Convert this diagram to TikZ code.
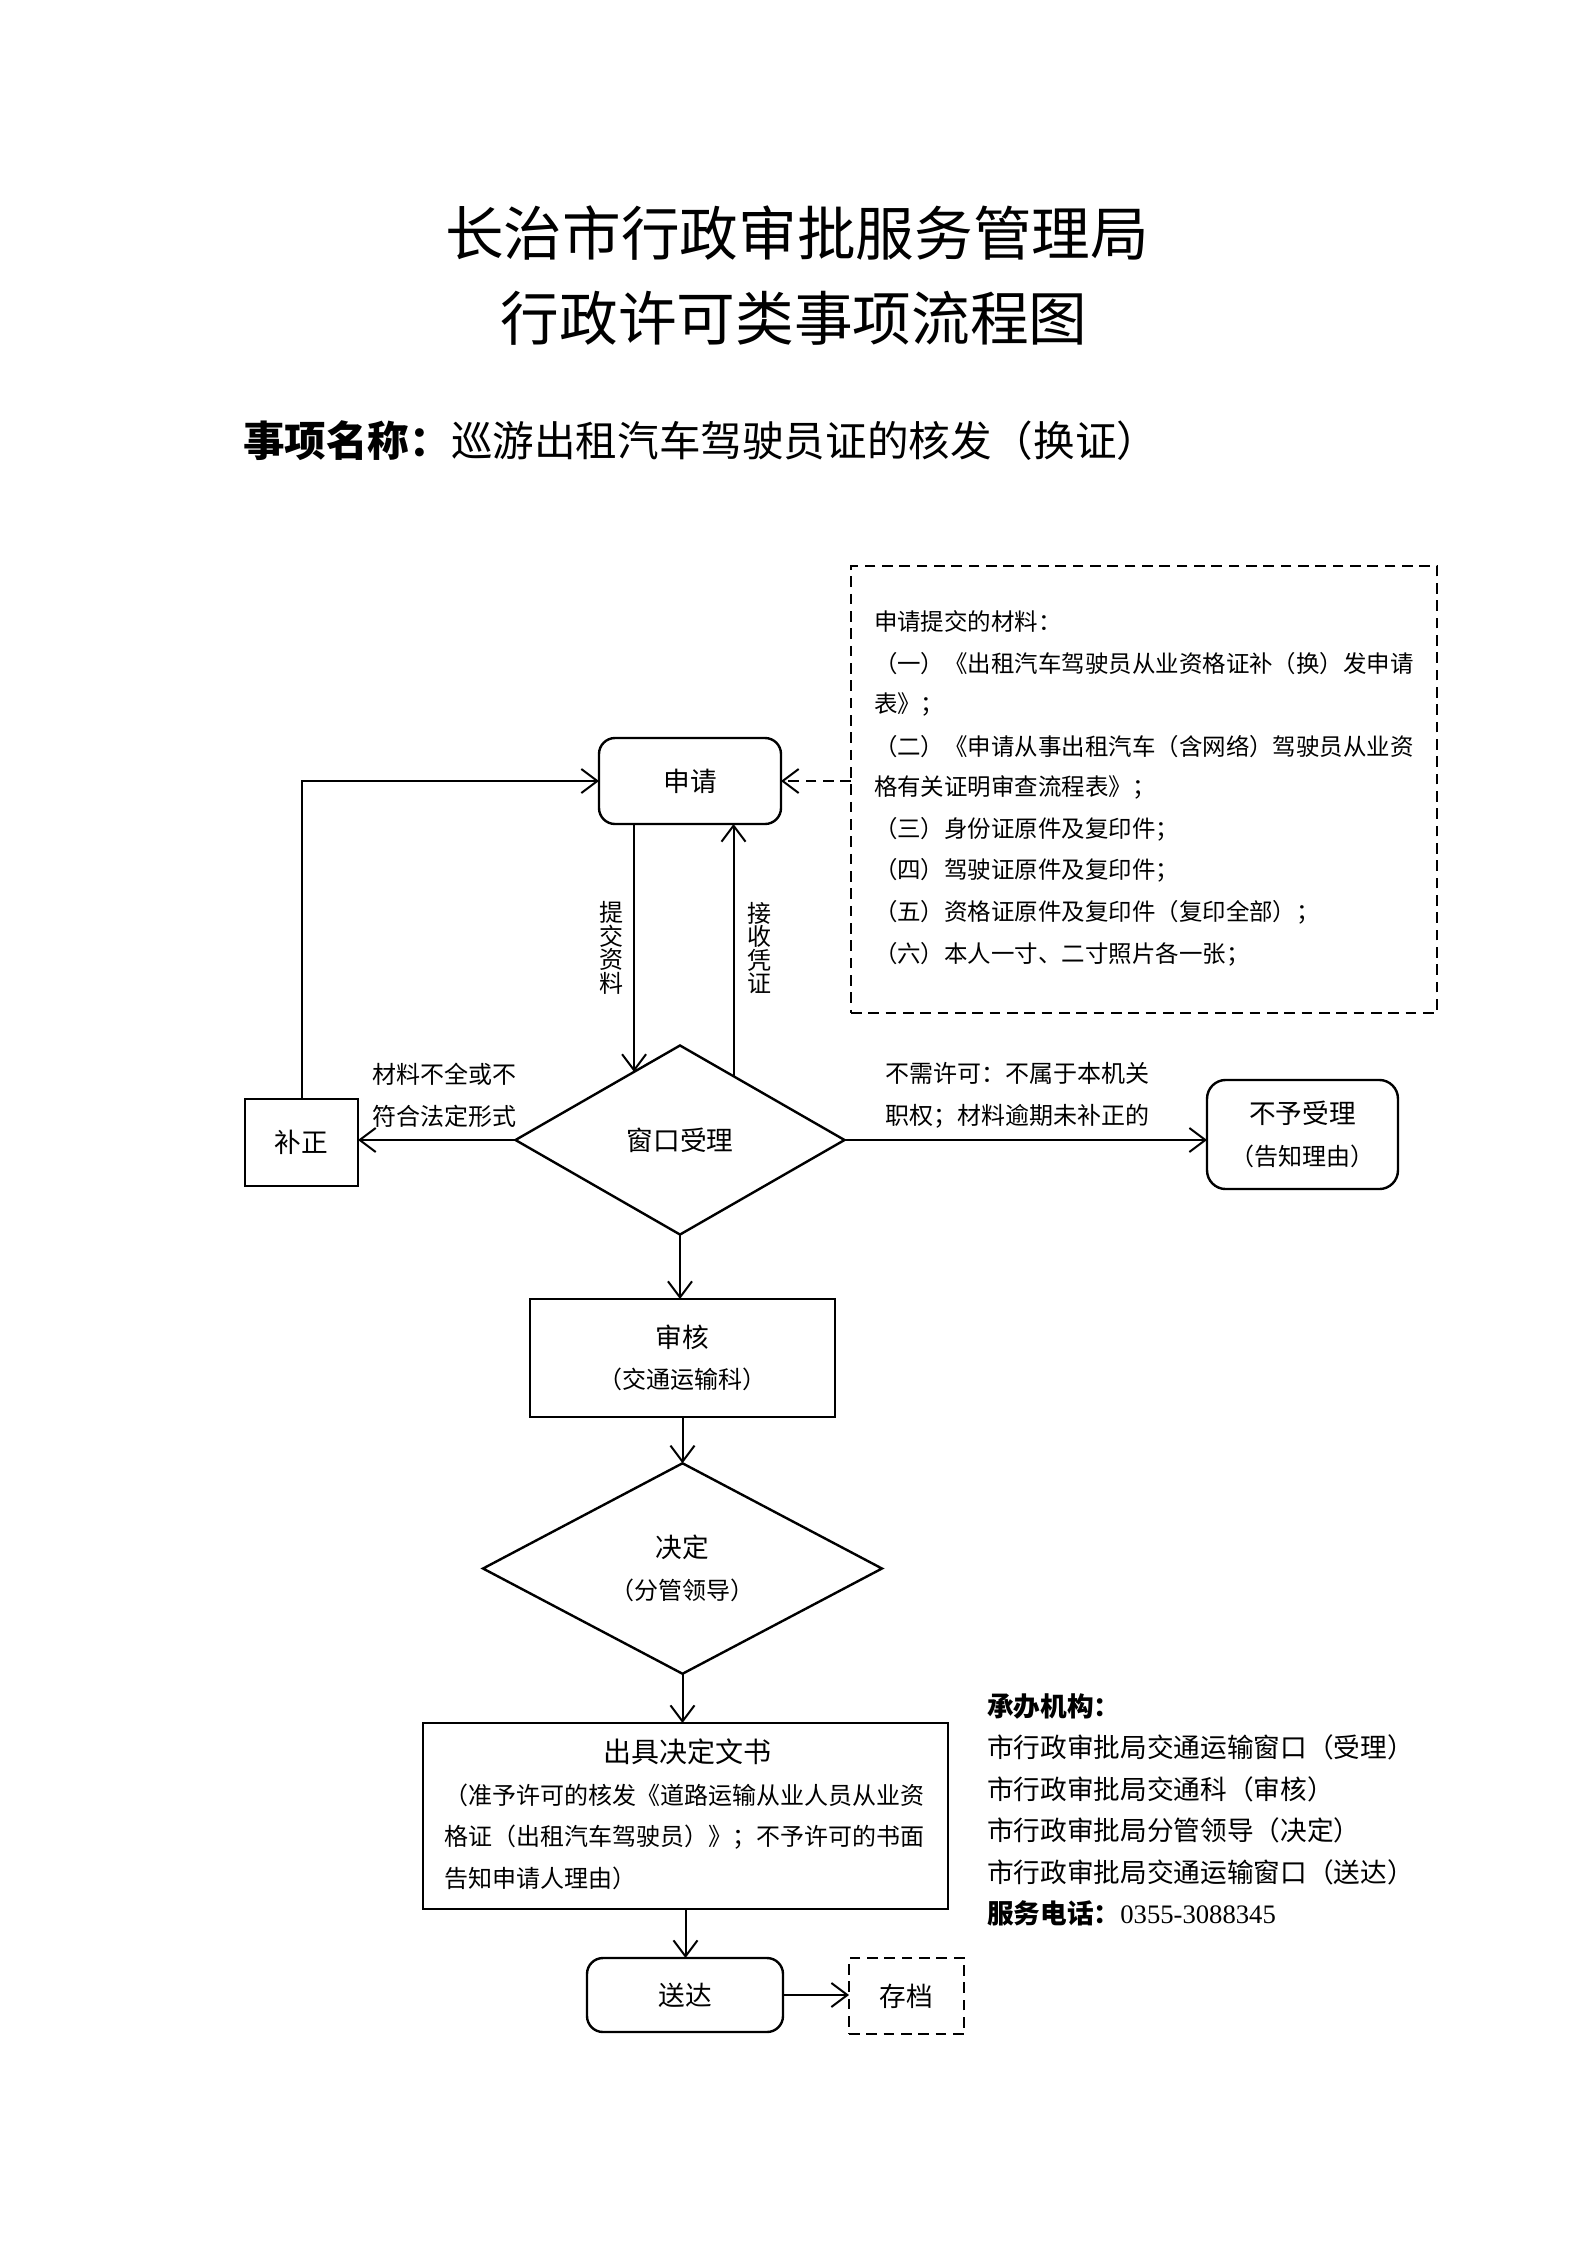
\documentclass[tikz,border=0pt]{standalone}
\usepackage{fontspec}
\setmainfont{Noto Sans CJK SC}
\newfontfamily\numfont{Liberation Serif}
\usetikzlibrary{shapes.geometric,arrows.meta,calc}
\begin{document}
\begin{tikzpicture}[x=0.375pt,y=-0.375pt,
  every node/.style={inner sep=0pt, outer sep=0pt},
  shapebox/.style={draw, line width=0.9pt, align=center, font=\fontsize{10pt}{15.6pt}\selectfont},
  roundbox/.style={shapebox, rounded corners=6pt},
  decision/.style={shapebox, diamond},
  dashbox/.style={draw, line width=0.9pt, dash pattern=on 4pt off 2.5pt},
  conn/.style={line width=0.75pt, -{Straight Barb[length=6pt,width=9pt,line width=0.75pt]}},
  dconn/.style={conn, dash pattern=on 4pt off 2.5pt},
  small/.style={font=\fontsize{9pt}{15.6pt}\selectfont},
  matfont/.style={font=\fontsize{8.8pt}{15.6pt}\selectfont},
  vlabel/.style={align=center, font=\fontsize{9pt}{8.8pt}\selectfont},
  titlefont/.style={font=\fontsize{22pt}{26pt}\selectfont},
  infofont/.style={font=\fontsize{10pt}{15.6pt}\selectfont},
]
\useasboundingbox (0,0) rectangle (1587,2245);

% titles
\node[titlefont] (t1) at (797,233) {长治市行政审批服务管理局};
\node[titlefont] (t2) at (794,318) {行政许可类事项流程图};
\node[anchor=west, font=\fontsize{15.6pt}{18pt}\selectfont] (sub) at (243,441) {\textbf{事项名称：}巡游出租汽车驾驶员证的核发（换证）};

% materials box
\node[dashbox, minimum width=219.75pt, minimum height=167.6pt] (mat) at (1144,789.5) {};
\node[matfont, anchor=west] (m0) at (874,621.6) {申请提交的材料：};
\node[matfont, anchor=west] (m1) at (874,663.1) {（一）《出租汽车驾驶员从业资格证补（换）发申请};
\node[matfont, anchor=west] (m2) at (874,704.7) {表》；};
\node[matfont, anchor=west] (m3) at (874,746.2) {（二）《申请从事出租汽车（含网络）驾驶员从业资};
\node[matfont, anchor=west] (m4) at (874,787.8) {格有关证明审查流程表》；};
\node[matfont, anchor=west] (m5) at (874,829.3) {（三）身份证原件及复印件；};
\node[matfont, anchor=west] (m6) at (874,870.8) {（四）驾驶证原件及复印件；};
\node[matfont, anchor=west] (m7) at (874,912.4) {（五）资格证原件及复印件（复印全部）；};
\node[matfont, anchor=west] (m8) at (874,953.9) {（六）本人一寸、二寸照片各一张；};

% main nodes
\node[roundbox, minimum width=68.25pt, minimum height=32.25pt] (apply) at (690,781) {申请};
\node[shapebox, minimum width=42.4pt, minimum height=32.6pt] (fix) at (301.5,1142.5) {补正};
\node[decision, minimum width=123.4pt, minimum height=70.9pt] (window) at (680,1140) {窗口受理};
\node[roundbox, rounded corners=7pt, minimum width=71.6pt, minimum height=40.9pt] (reject) at (1302.5,1134.5) {不予受理\\{\fontsize{9pt}{10pt}\selectfont （告知理由）}};
\node[shapebox, minimum width=114.4pt, minimum height=44.25pt] (review) at (682.5,1358) {审核\\{\fontsize{9pt}{10pt}\selectfont （交通运输科）}};
\node[decision, minimum width=149.6pt, minimum height=73.1pt] (decide) at (682.5,1568.5) {决定\\{\fontsize{9pt}{10pt}\selectfont （分管领导）}};
\node[draw, line width=0.9pt, minimum width=196.9pt, minimum height=69.75pt] (issue) at (685.5,1816) {};
\node[font=\fontsize{10.5pt}{12pt}\selectfont] (issuet) at (687,1752) {出具决定文书};
\node[small, anchor=west, align=left] (issueb) at (444,1836.5) {（准予许可的核发《道路运输从业人员从业资\\格证（出租汽车驾驶员）》；不予许可的书面\\告知申请人理由）};
\node[roundbox, minimum width=73.5pt, minimum height=27.75pt] (deliver) at (685,1995) {送达};
\node[shapebox, dash pattern=on 4pt off 2.5pt, minimum width=43.1pt, minimum height=28.5pt] (archive) at (906.5,1996) {存档};

% edge labels
\node[vlabel] (lsubmit) at (611,948) {提\\交\\资\\料};
\node[vlabel] (lreceipt) at (759,948) {接\\收\\凭\\证};
\node[small, anchor=west, align=left] (lfix) at (372,1095.5) {材料不全或不\\符合法定形式};
\node[small, anchor=west, align=left] (lrej) at (885,1095.5) {不需许可：不属于本机关\\职权；材料逾期未补正的};

% connectors
\draw[dconn] (mat.west |- apply.east) -- (apply.east);
\draw[conn] (fix.north) |- (apply.west);
\draw[conn] (window.124 |- apply.south) -- (window.124);
\draw[conn] (window.50) -- (window.50 |- apply.south);
\draw[conn] (window.west) -- (window.west -| fix.east);
\draw[conn] (window.east) -- (window.east -| reject.west);
\draw[conn] (window.south) -- (window.south |- review.north);
\draw[conn] (review.south) -- (review.south |- decide.north);
\draw[conn] (decide.south) -- (decide.south |- issue.north);
\draw[conn] (issue.south) -- (issue.south |- deliver.north);
\draw[conn] (deliver.east) -- (deliver.east -| archive.west);

% info block
\node[infofont, anchor=west] (i0) at (987,1706) {\textbf{承办机构：}};
\node[infofont, anchor=west] (i1) at (987,1747) {市行政审批局交通运输窗口（受理）};
\node[infofont, anchor=west] (i2) at (987,1789) {市行政审批局交通科（审核）};
\node[infofont, anchor=west] (i3) at (987,1830) {市行政审批局分管领导（决定）};
\node[infofont, anchor=west] (i4) at (987,1872) {市行政审批局交通运输窗口（送达）};
\node[infofont, anchor=west] (i5) at (987,1913) {\textbf{服务电话：}{\numfont 0355-3088345}};
\end{tikzpicture}
\end{document}
